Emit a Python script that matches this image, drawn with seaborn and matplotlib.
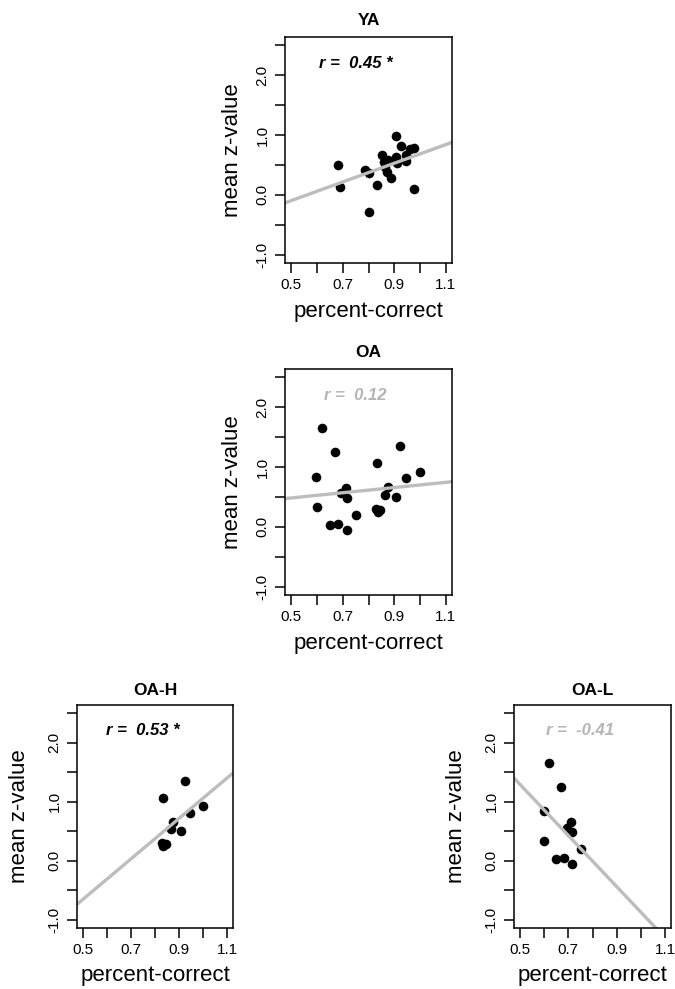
import numpy as np
import pandas as pd
import seaborn as sns
import matplotlib.pyplot as plt

# percent-correct (x) vs mean z-value (y)
ya_x = [0.680, 0.688, 0.785, 0.801, 0.800, 0.833, 0.854, 0.860, 0.863, 0.872, 0.876,
        0.886, 0.906, 0.906, 0.909, 0.925, 0.944, 0.945, 0.960, 0.976, 0.977]
ya_y = [0.50, 0.13, 0.41, 0.37, -0.29, 0.17, 0.66, 0.55, 0.47, 0.39, 0.58,
        0.28, 0.98, 0.64, 0.53, 0.81, 0.67, 0.57, 0.77, 0.79, 0.09]

# older adults, high performers
oah_x = [0.828, 0.835, 0.845, 0.833, 0.865, 0.875, 0.907, 0.924, 0.944, 0.999]
oah_y = [0.30, 0.25, 0.28, 1.07, 0.53, 0.66, 0.50, 1.36, 0.81, 0.92]

# older adults, low performers
oal_x = [0.621, 0.669, 0.598, 0.601, 0.651, 0.682, 0.715, 0.693, 0.711, 0.715, 0.752]
oal_y = [1.65, 1.25, 0.84, 0.335, 0.03, 0.04, -0.05, 0.56, 0.65, 0.48, 0.195]

oa_x = oal_x + oah_x
oa_y = oal_y + oah_y

r_labels = ["r =  0.45 *", "r =  0.12", "r =  0.53 *", "r =  -0.41"]
sig = [True, False, True, False]

x_ticks = [0.5, 0.6, 0.7, 0.8, 0.9, 1.0, 1.1]
x_ticklabels = ["0.5", "", "0.7", "", "0.9", "", "1.1"]
y_ticks = [-1.0, -0.5, 0.0, 0.5, 1.0, 1.5, 2.0, 2.5]
y_ticklabels = ["-1.0", "", "0.0", "", "1.0", "", "2.0", ""]

sns.set_style("ticks")
plt.rcParams["font.family"] = ["Liberation Sans", "DejaVu Sans"]
plt.rcParams["text.color"] = "black"
plt.rcParams["axes.labelcolor"] = "black"

W, H = 675, 989
fig = plt.figure(figsize=(W / 100, H / 100), dpi=100)

# box in pixels: left, top, width, height, title pad, ylabel offset
panels = [
    ("YA", ya_x, ya_y, (285, 37, 167, 226), 8.5, 53),
    ("OA", oa_x, oa_y, (285, 369, 167, 226), 8.5, 53),
    ("OA-H", oah_x, oah_y, (77, 705, 156, 223), 7, 58),
    ("OA-L", oal_x, oal_y, (514, 705, 157, 223), 7, 58),
]

for i, (name, xs, ys, box, tpad, yoff) in enumerate(panels):
    l, t, w, h = box
    ax = fig.add_axes([l / W, 1 - (t + h) / H, w / W, h / H])
    ax.set_xlim(0.476, 1.124)
    ax.set_ylim(-1.14, 2.64)
    df = pd.DataFrame({"pc": xs, "z": ys})
    sns.regplot(data=df, x="pc", y="z", ax=ax, ci=None, truncate=False, color="black",
                scatter_kws=dict(s=48, alpha=1, linewidths=0),
                line_kws=dict(color="#bdbdbd", lw=2.4))
    ax.set_xlim(0.476, 1.124)
    ax.set_ylim(-1.14, 2.64)

    ax.set_xticks(x_ticks)
    ax.set_xticklabels(x_ticklabels)
    ax.set_yticks(y_ticks)
    ax.set_yticklabels(y_ticklabels, rotation=90, va="center")
    ax.tick_params(direction="out", length=7, width=1.1, pad=4, labelsize=11,
                   colors="black")
    for s in ax.spines.values():
        s.set_visible(True)
        s.set_linewidth(1.1)
        s.set_color("black")

    ax.set_xlabel("percent-correct", fontsize=16, va="center")
    ax.set_ylabel("mean z-value", fontsize=16, va="center")
    ax.xaxis.set_label_coords(0.5, -(311 - 263) / 226)
    ax.yaxis.set_label_coords(-yoff / w, 0.5)
    ax.set_title(name, fontsize=12.5, fontweight="bold", pad=tpad)

    col = "black" if sig[i] else "#b5b5b5"
    ax.text(0.75, 2.2, r_labels[i], ha="center", va="center", fontsize=12,
            fontweight="bold", style="italic", color=col)

fig.savefig("out.png", dpi=100)
